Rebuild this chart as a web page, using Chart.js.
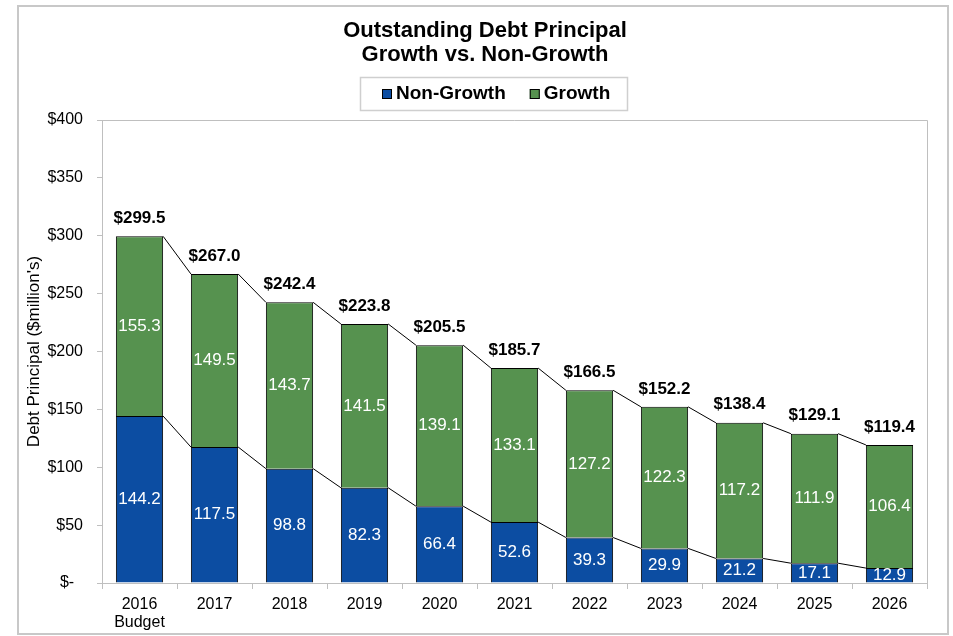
<!DOCTYPE html>
<html>
<head>
<meta charset="utf-8">
<script src="https://cdn.jsdelivr.net/npm/chart.js@4.4.1/dist/chart.umd.min.js"></script>
<style>
  html, body { margin: 0; padding: 0; background: #fff; }
  #frame { position: absolute; left: 17px; top: 5px; width: 932px; height: 630px;
           box-sizing: border-box; border: 2px solid #c8c8c8; }
  canvas { display: block; }
</style>
</head>
<body>
<div id="frame"><canvas id="debt" width="928" height="626"></canvas></div>
<script>
var years = [['2016', 'Budget'], '2017', '2018', '2019', '2020', '2021', '2022', '2023', '2024', '2025', '2026'];
var nonGrowth = [144.2, 117.5, 98.8, 82.3, 66.4, 52.6, 39.3, 29.9, 21.2, 17.1, 12.9];
var growth = [155.3, 149.5, 143.7, 141.5, 139.1, 133.1, 127.2, 122.3, 117.2, 111.9, 106.4];
var totals = [299.5, 267.0, 242.4, 223.8, 205.5, 185.7, 166.5, 152.2, 138.4, 129.1, 119.4];
var titleLines = ['Outstanding Debt Principal', 'Growth vs. Non-Growth'];
var axisTitle = "Debt Principal ($million's)";

var FONT = "'Liberation Sans', Arial, sans-serif";
var BLUE = '#0c4da2';
var GREEN = '#56924f';
var GRAY = '#bfbfbf';

// title + boxed legend, drawn by hand so they sit where the original has them
var header = {
  id: 'header',
  afterDraw: function(chart) {
    var ctx = chart.ctx;
    ctx.save();
    ctx.fillStyle = '#000';
    ctx.textAlign = 'center';
    ctx.textBaseline = 'middle';
    ctx.font = 'bold 22px ' + FONT;
    titleLines.forEach(function(t, i) { ctx.fillText(t, 466, 24 + i * 24); });

    ctx.strokeStyle = '#cfcfcf';
    ctx.lineWidth = 1.5;
    ctx.strokeRect(341.5, 70.5, 267, 33);

    ctx.font = 'bold 19px ' + FONT;
    ctx.textAlign = 'left';
    var x = 363;
    chart.data.datasets.forEach(function(ds) {
      ctx.fillStyle = ds.backgroundColor;
      ctx.fillRect(x, 82, 10, 10);
      ctx.lineWidth = 1;
      ctx.strokeStyle = '#000';
      ctx.strokeRect(x + 0.5, 82.5, 9, 9);
      ctx.fillStyle = '#000';
      ctx.fillText(ds.label, x + 14, 87);
      x += 14 + ctx.measureText(ds.label).width + 24;
    });
    ctx.restore();
  }
};

// top and right edges of the plot area
var plotFrame = {
  id: 'plotFrame',
  beforeDatasetsDraw: function(chart) {
    var a = chart.chartArea, ctx = chart.ctx;
    ctx.save();
    ctx.strokeStyle = GRAY;
    ctx.lineWidth = 1;
    ctx.beginPath();
    ctx.moveTo(a.left, a.top + 0.5);
    ctx.lineTo(a.right + 0.5, a.top + 0.5);
    ctx.lineTo(a.right + 0.5, a.bottom);
    ctx.stroke();
    ctx.restore();
  }
};

// series lines between neighbouring bars + value labels
var barExtras = {
  id: 'barExtras',
  afterDatasetsDraw: function(chart) {
    var ctx = chart.ctx, a = chart.chartArea;
    ctx.save();
    ctx.strokeStyle = '#000';
    ctx.lineWidth = 1;
    ctx.beginPath();
    [0, 1].forEach(function(d) {
      var bars = chart.getDatasetMeta(d).data;
      for (var i = 0; i < bars.length - 1; i++) {
        var p = bars[i].getProps(['x', 'y', 'width'], true);
        var q = bars[i + 1].getProps(['x', 'y', 'width'], true);
        ctx.moveTo(p.x + p.width / 2, p.y);
        ctx.lineTo(q.x - q.width / 2, q.y);
      }
    });
    ctx.stroke();

    ctx.save();
    ctx.beginPath();
    ctx.rect(a.left, a.top, a.right - a.left, a.bottom - a.top);
    ctx.clip();
    ctx.fillStyle = '#fff';
    ctx.textAlign = 'center';
    ctx.textBaseline = 'middle';
    ctx.font = '17px ' + FONT;
    [0, 1].forEach(function(d) {
      var vals = chart.data.datasets[d].data;
      chart.getDatasetMeta(d).data.forEach(function(bar, i) {
        var p = bar.getProps(['x', 'y', 'base'], true);
        ctx.fillText(vals[i].toFixed(1), p.x, (p.y + p.base) / 2);
      });
    });
    ctx.restore();

    ctx.fillStyle = '#000';
    ctx.textAlign = 'center';
    ctx.textBaseline = 'middle';
    ctx.font = 'bold 17px ' + FONT;
    chart.getDatasetMeta(1).data.forEach(function(bar, i) {
      var p = bar.getProps(['x', 'y'], true);
      ctx.fillText('$' + totals[i].toFixed(1), p.x, p.y - 18);
    });
    ctx.restore();
  }
};

new Chart(document.getElementById('debt'), {
  type: 'bar',
  data: {
    labels: years,
    datasets: [
      { label: 'Non-Growth', data: nonGrowth, backgroundColor: BLUE, borderColor: '#000', borderWidth: 1 },
      { label: 'Growth', data: growth, backgroundColor: GREEN, borderColor: '#000', borderWidth: 1 }
    ]
  },
  options: {
    responsive: false,
    devicePixelRatio: 1,
    animation: false,
    layout: { padding: { left: 1, right: 20, top: 113, bottom: 0 } },
    datasets: { bar: { categoryPercentage: 1, barPercentage: 0.63 } },
    plugins: { legend: { display: false }, title: { display: false }, tooltip: { enabled: false } },
    scales: {
      x: {
        stacked: true,
        afterFit: function(s) { s.height = 50; },
        grid: { offset: true, drawOnChartArea: false, color: GRAY, tickLength: 6 },
        border: { color: GRAY },
        ticks: { color: '#000', padding: 6, font: { family: FONT, size: 16, lineHeight: 1.15 }, maxRotation: 0 }
      },
      y: {
        stacked: true,
        min: 0,
        max: 400,
        afterFit: function(s) { s.width = 82; },
        grid: { drawOnChartArea: false, color: GRAY, tickLength: 5 },
        border: { color: GRAY },
        ticks: {
          stepSize: 50,
          color: '#000',
          padding: 14,
          font: { family: FONT, size: 16 },
          callback: function(v) { return v === 0 ? '$-  ' : '$' + v; }
        },
        title: { display: true, text: axisTitle, color: '#000', font: { family: FONT, size: 17 } }
      }
    }
  },
  plugins: [header, plotFrame, barExtras]
});
</script>
</body>
</html>
